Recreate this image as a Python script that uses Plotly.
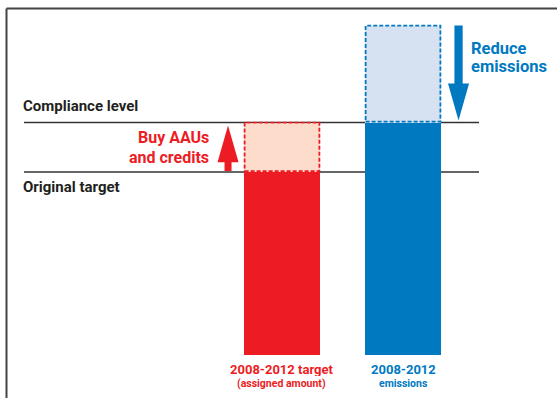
import plotly.graph_objects as go

# ---- data ----
categories = ["2008-2012 target", "2008-2012 emissions"]
original_target = 100      # assigned amount
compliance_level = 127     # level actually required
emissions_before = 180     # emissions before reduction
solid_values = [original_target, compliance_level]
box_bases = [original_target, compliance_level]
box_tops = [compliance_level, emissions_before]

RED = "#ED1C24"
RED_LIGHT = "#FDDCCB"
BLUE = "#0079C1"
BLUE_LIGHT = "#D6E2F2"
DARK = "#333333"
FONT = "Roboto, sans-serif"

W, H = 557, 398
x_pos = [0, 1]
bar_w = 0.632
x_range = [-2.3306, 2.2727]
y_range = [-23.5, 194.0]

fig = go.Figure()

# light (dashed) boxes
fig.add_trace(go.Bar(
    x=x_pos, y=[t - b for t, b in zip(box_tops, box_bases)], base=box_bases,
    width=bar_w, marker=dict(color=[RED_LIGHT, BLUE_LIGHT], line=dict(width=0)),
    hoverinfo="skip", showlegend=False))
# solid bars
fig.add_trace(go.Bar(
    x=x_pos, y=solid_values, base=[0, 0], width=bar_w,
    marker=dict(color=[RED, BLUE], line=dict(width=0)),
    hoverinfo="skip", showlegend=False))

shapes = []
# dashed borders
for xi, b, t, c in zip(x_pos, box_bases, box_tops, [RED, BLUE]):
    shapes.append(dict(type="rect", xref="x", yref="y",
                       x0=xi - bar_w / 2 + 0.007, x1=xi + bar_w / 2 - 0.007,
                       y0=b + 0.5, y1=t,
                       line=dict(color=c, width=1.8, dash="4px,2px"),
                       fillcolor="rgba(0,0,0,0)", layer="above"))
# reference lines
for lvl in [compliance_level, original_target]:
    shapes.append(dict(type="line", xref="paper", yref="y",
                       x0=24 / W, x1=479 / W, y0=lvl, y1=lvl,
                       line=dict(color=DARK, width=1.5), layer="below"))
# frame
shapes.append(dict(type="line", xref="paper", yref="paper",
                   x0=6.5 / W, x1=1.0, y0=1 - 8.5 / H, y1=1 - 8.5 / H,
                   line=dict(color="#444444", width=2)))
shapes.append(dict(type="line", xref="paper", yref="paper",
                   x0=6.5 / W, x1=6.5 / W, y0=0, y1=1 - 8.5 / H,
                   line=dict(color="#444444", width=2)))


def arrow_path(xc, y_tail, y_tip, shaft_hw, head_hw, head_len):
    d = 1 if y_tip > y_tail else -1
    y_hb = y_tip - d * head_len
    pts = [(xc - shaft_hw, y_tail), (xc - shaft_hw, y_hb), (xc - head_hw, y_hb),
           (xc, y_tip), (xc + head_hw, y_hb), (xc + shaft_hw, y_hb),
           (xc + shaft_hw, y_tail)]
    return "M" + "L".join(f"{px},{py}" for px, py in pts) + "Z"


# arrows: red "buy" up to compliance, blue "reduce" down to compliance
shapes.append(dict(type="path", xref="x", yref="y",
                   path=arrow_path(-0.446, original_target + 0.5, compliance_level - 1.6,
                                   0.029, 0.087, 20.0),
                   fillcolor=RED, line=dict(width=0)))
shapes.append(dict(type="path", xref="x", yref="y",
                   path=arrow_path(1.459, emissions_before, compliance_level + 1.2,
                                   0.034, 0.087, 20.2),
                   fillcolor=BLUE, line=dict(width=0)))


def ann(text, xpx, ypx, size, color, xanchor="left", height=None):
    d = dict(text=text, xref="paper", yref="paper", x=xpx / W, y=1 - ypx / H,
             xanchor=xanchor, yanchor="middle", showarrow=False, borderpad=0,
             font=dict(family=FONT, size=size, color=color))
    if height:
        d["height"] = height
    return d


annotations = [
    ann("<b>Compliance level</b>", 22, 106, 15, "#231F20"),
    ann("<b>Original target</b>", 22, 187, 15, "#231F20"),
    ann("<b>Buy AAUs</b>", 210, 137.5, 16, RED, "right", 17),
    ann("<b>and credits</b>", 210, 157.5, 16, RED, "right", 17),
    ann("<b>Reduce</b>", 470, 48.5, 16.5, BLUE, "left", 17),
    ann("<b>emissions</b>", 470, 66.5, 16.5, BLUE, "left", 17),
    ann("<b>2008-2012 target</b>", 281, 369, 13, RED, "center", 14),
    ann("<b>(assigned amount)</b>", 281, 383.5, 10.5, RED, "center", 13),
    ann("<b>2008-2012</b>", 403, 369, 13, BLUE, "center", 14),
    ann("<b>emissions</b>", 403, 383.5, 10.5, BLUE, "center", 13),
]

fig.update_layout(
    width=W, height=H, margin=dict(l=0, r=0, t=0, b=0),
    paper_bgcolor="white", plot_bgcolor="white",
    barmode="overlay", bargap=0,
    xaxis=dict(range=x_range, visible=False, fixedrange=True),
    yaxis=dict(range=y_range, visible=False, fixedrange=True),
    shapes=shapes, annotations=annotations,
)

fig.write_html("out.html")
